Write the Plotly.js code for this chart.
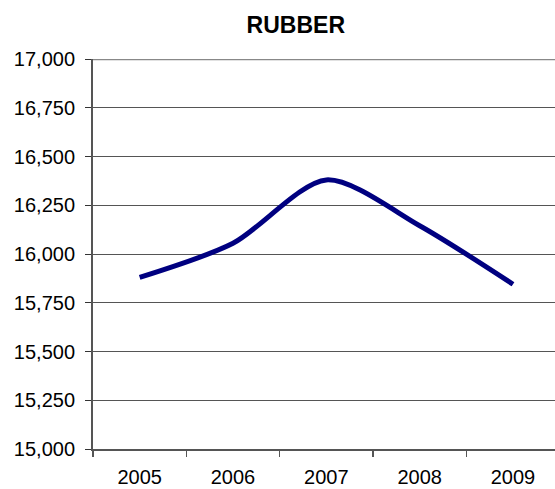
<!DOCTYPE html>
<html>
<head>
<meta charset="utf-8">
<script src="https://cdn.plot.ly/plotly-3.0.1.min.js"></script>
<style>html,body{margin:0;padding:0;overflow:hidden;background:#fff;}</style>
</head>
<body>
<div id="chart" style="width:555px;height:489px;"></div>
<script>
const years = ["2005", "2006", "2007", "2008", "2009"];
const rubber = [15880, 16055, 16380, 16145, 15845];
const yTicks = [15000, 15250, 15500, 15750, 16000, 16250, 16500, 16750, 17000];

const trace = {
  x: years,
  y: rubber,
  type: "scatter",
  mode: "lines",
  line: {color: "#000080", width: 5, shape: "spline", smoothing: 0.8},
  hoverinfo: "skip"
};

const layout = {
  width: 555,
  height: 489,
  margin: {l: 93, r: 0, t: 59, b: 40},
  paper_bgcolor: "#ffffff",
  plot_bgcolor: "#ffffff",
  showlegend: false,
  font: {family: "Liberation Sans, Arial, sans-serif", color: "#000000", size: 20},
  title: {
    text: "<b>RUBBER</b>",
    font: {family: "Liberation Sans, Arial, sans-serif", size: 23, color: "#000"},
    x: 0.533, xref: "container", xanchor: "center",
    y: 0.949, yref: "container", yanchor: "middle"
  },
  xaxis: {
    type: "category",
    range: [-0.5, 4.45],
    tickson: "boundaries",
    ticks: "outside",
    ticklen: 6,
    tickwidth: 1.5,
    tickcolor: "#555",
    showline: true,
    linecolor: "#555",
    linewidth: 2,
    showgrid: false,
    ticklabelstandoff: 9,
    tickfont: {size: 20},
    fixedrange: true
  },
  yaxis: {
    range: [15000, 17000],
    tickvals: yTicks,
    ticktext: yTicks.map(v => v.toLocaleString("en-US")),
    ticks: "outside",
    ticklen: 6,
    tickwidth: 1,
    tickcolor: "#333",
    showline: true,
    linecolor: "#555",
    linewidth: 2,
    showgrid: true,
    gridcolor: "#555",
    gridwidth: 1,
    zeroline: false,
    ticklabelstandoff: 6,
    tickfont: {size: 20},
    fixedrange: true
  },
  shapes: [{
    type: "line", xref: "paper", yref: "y",
    x0: 0, x1: 1, y0: 17000, y1: 17000,
    line: {color: "#888", width: 2.5}
  }]
};

Plotly.newPlot("chart", [trace], layout, {displayModeBar: false, staticPlot: true});
</script>
</body>
</html>
